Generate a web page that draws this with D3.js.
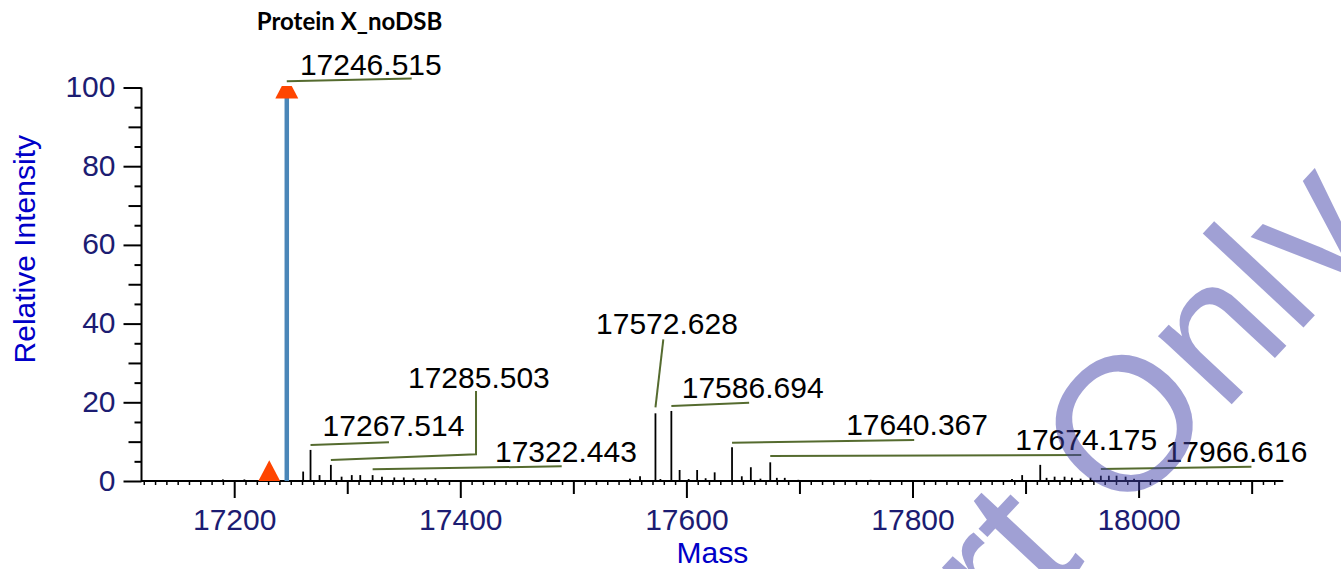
<!DOCTYPE html>
<html>
<head>
<meta charset="utf-8">
<script src="https://cdn.jsdelivr.net/npm/d3@7"></script>
<style>
  html, body { margin: 0; padding: 0; background: #fff; }
  svg { display: block; }
</style>
</head>
<body>
<script>
// ---------------- data ----------------
const chartTitle = "Protein X_noDSB";
const xTitle = "Mass";
const yTitle = "Relative Intensity";

const peakMass = [17190, 17209, 17231, 17246.515, 17261, 17267.514, 17275.5, 17285.503, 17295, 17304,
  17311.5, 17322.443, 17330.7, 17341.6, 17350, 17358.7, 17369, 17378, 17550, 17559,
  17572.628, 17577, 17586.694, 17594, 17602, 17609.5, 17617, 17625, 17640.367, 17649,
  17657, 17665.5, 17674.175, 17680, 17687, 17699, 17763, 17888, 17897, 17913,
  17918.6, 17925.7, 17934.5, 17941, 17948.7, 17957.5, 17966.616, 17973.7, 17980.5, 17988.5,
  17996, 18012];
const peakIntensity = [0.4, 0.4, 1.0, 100, 2.4, 7.9, 1.5, 4.1, 1.1, 1.5,
  1.5, 1.5, 1.1, 0.9, 0.9, 0.7, 0.7, 0.7, 0.6, 1.2,
  17.2, 0.5, 17.8, 2.8, 0.5, 2.8, 0.7, 2.2, 8.6, 1.2,
  3.5, 0.6, 4.75, 0.8, 0.8, 0.3, 0.3, 0.5, 1.5, 4.1,
  0.8, 1.1, 1.1, 0.85, 0.6, 0.85, 1.35, 1.35, 1.35, 1.1,
  0.6, 0.4];

const markerMass = [17231, 17246.515];
const markerIntensity = [2.5, 100];

const labelText = ["17246.515", "17267.514", "17285.503", "17322.443", "17572.628",
  "17586.694", "17640.367", "17674.175", "17966.616"];

// annotation layout, in data units (mass, intensity)
const labelAnchor = [[17258.1, 103.2], [17278.2, 11.4], [17353.7, 23.6], [17430.7, 4.83], [17520.1, 37.3],
  [17595.9, 21.0], [17741.3, 11.7], [17890.9, 7.9], [18023.9, 4.9]];
const leaderPath = [
  [[17246.515, 101.6], [17357.0, 102.3]],
  [[17267.514, 9.15], [17336.9, 9.83]],
  [[17285.503, 5.34], [17413.9, 6.79], [17413.9, 22.9]],
  [[17322.443, 2.97], [17489.7, 3.74]],
  [[17572.628, 18.7], [17579.6, 36.0]],
  [[17586.694, 19.06], [17655.5, 19.9]],
  [[17640.367, 9.73], [17801.5, 10.4]],
  [[17674.175, 6.35], [17949.3, 6.6]],
  [[17966.616, 3.05], [18099.8, 3.63]]
];

const xDomain = [17118, 18128];
const yDomain = [0, 100];
const xLabelTicks = [17200, 17400, 17600, 17800, 18000];
const yLabelTicks = [0, 20, 40, 60, 80, 100];

const watermarkText = "Report Only";

// ---------------- chart ----------------
const W = 1341, H = 569;
const svg = d3.select("body").append("svg").attr("width", W).attr("height", H);

const x = d3.scaleLinear().domain(xDomain).range([141.5, 1283.3]);
const y = d3.scaleLinear().domain(yDomain).range([481, 87.5]);

const FONT = "'Liberation Sans', Arial, Helvetica, sans-serif";
const tickColor = "#1c1c72";
const titleBlue = "#0000c8";

svg.append("defs").append("clipPath").attr("id", "plotclip")
  .append("rect").attr("x", x.range()[0]).attr("y", y(100) - 1.5)
  .attr("width", x.range()[1] - x.range()[0]).attr("height", y(0) - y(100) + 1.5);

// ---- x axis ----
const xMinor = d3.range(17120, 18121, 10).filter(v => v % 100 !== 0);
const xMid = d3.range(17200, 18101, 100).filter(v => v % 200 !== 0);

function styleAxis(g, sw) {
  g.selectAll(".domain").remove();
  g.selectAll(".tick line").attr("stroke", "#000").attr("stroke-width", sw);
}
svg.append("g").attr("transform", `translate(0,${y(0)})`)
  .call(d3.axisBottom(x).tickValues(xMinor).tickSize(4).tickFormat(""))
  .call(g => styleAxis(g, 1.5));
svg.append("g").attr("transform", `translate(0,${y(0)})`)
  .call(d3.axisBottom(x).tickValues(xMid).tickSize(13).tickFormat(""))
  .call(g => styleAxis(g, 2));
const xg = svg.append("g").attr("transform", `translate(0,${y(0)})`)
  .call(d3.axisBottom(x).tickValues(xLabelTicks).tickSize(17).tickPadding(11).tickFormat(d3.format("d")))
  .call(g => styleAxis(g, 2));
xg.selectAll(".tick text").attr("font-family", FONT).attr("font-size", 30).attr("fill", tickColor);

// ---- y axis ----
const yMinor = d3.range(5, 100, 10);
const yMid = d3.range(10, 100, 20);
svg.append("g").attr("transform", `translate(${x.range()[0]},0)`)
  .call(d3.axisLeft(y).tickValues(yMinor).tickSize(7).tickFormat(""))
  .call(g => styleAxis(g, 2));
svg.append("g").attr("transform", `translate(${x.range()[0]},0)`)
  .call(d3.axisLeft(y).tickValues(yMid).tickSize(13).tickFormat(""))
  .call(g => styleAxis(g, 2));
const yg = svg.append("g").attr("transform", `translate(${x.range()[0]},0)`)
  .call(d3.axisLeft(y).tickValues(yLabelTicks).tickSize(18).tickPadding(8).tickFormat(d3.format("d")))
  .call(g => styleAxis(g, 2));
yg.selectAll(".tick text").attr("font-family", FONT).attr("font-size", 30).attr("fill", tickColor)
  .attr("dy", "0.3em");

// axis lines
svg.append("line").attr("x1", x.range()[0]).attr("x2", x.range()[1])
  .attr("y1", y(0)).attr("y2", y(0)).attr("stroke", "#000").attr("stroke-width", 2);
svg.append("line").attr("x1", x.range()[0]).attr("x2", x.range()[0])
  .attr("y1", y(0) + 1).attr("y2", y(100)).attr("stroke", "#000").attr("stroke-width", 2);

// ---- peaks ----
const peaks = peakMass.map((m, i) => ({ m, v: peakIntensity[i] }));
const maxV = d3.max(peakIntensity);
svg.append("g").selectAll("line").data(peaks).join("line")
  .attr("x1", d => x(d.m)).attr("x2", d => x(d.m))
  .attr("y1", y(0)).attr("y2", d => y(d.v))
  .attr("stroke", d => d.v === maxV ? "#4a86b8" : "#000")
  .attr("stroke-width", d => d.v === maxV ? 4.5 : 1.8);

// ---- markers ----
const markers = markerMass.map((m, i) => ({ m, v: markerIntensity[i] }));
svg.append("g").attr("clip-path", "url(#plotclip)").selectAll("path").data(markers).join("path")
  .attr("d", d => {
    const cx = x(d.m), cy = y(d.v);
    return `M${cx},${cy - 11}L${cx + 11.5},${cy + 11}L${cx - 11.5},${cy + 11}Z`;
  })
  .attr("fill", "#ff4500");

// ---- leader lines & labels ----
const line = d3.line().x(d => x(d[0])).y(d => y(d[1]));
svg.append("g").selectAll("path").data(leaderPath).join("path")
  .attr("d", line).attr("fill", "none").attr("stroke", "#556b2f").attr("stroke-width", 2);
svg.append("g").selectAll("text").data(labelText).join("text")
  .attr("x", (d, i) => x(labelAnchor[i][0])).attr("y", (d, i) => y(labelAnchor[i][1]))
  .attr("font-family", FONT).attr("font-size", 30).attr("fill", "#000")
  .text(d => d);

// ---- titles ----
svg.append("text").attr("x", 349.5).attr("y", 30).attr("text-anchor", "middle")
  .attr("font-family", "Lato, 'Open Sans', sans-serif").attr("font-weight", "bold")
  .attr("font-size", 24).attr("fill", "#000").text(chartTitle);
svg.append("text").attr("x", (x.range()[0] + x.range()[1]) / 2).attr("y", 563)
  .attr("text-anchor", "middle").attr("font-family", FONT).attr("font-size", 30)
  .attr("fill", titleBlue).text(xTitle);
svg.append("text").attr("transform", `translate(35,${(y(0) + y(100)) / 2 - 35}) rotate(-90)`)
  .attr("text-anchor", "middle").attr("font-family", FONT).attr("font-size", 30)
  .attr("fill", titleBlue).text(yTitle);

// ---- watermark ----
const wmFont = 190;
const wm = svg.append("g").attr("transform", "translate(1122,522) rotate(-47)");
const probe = wm.append("text").attr("font-family", FONT).attr("font-size", wmFont)
  .style("white-space", "pre")
  .text(watermarkText.slice(0, watermarkText.indexOf("O")));
const prefixW = probe.node().getComputedTextLength();
probe.remove();
wm.append("text").attr("x", -prefixW).attr("y", 0)
  .attr("font-family", FONT).attr("font-size", wmFont)
  .attr("fill", "rgb(65,65,169)").attr("fill-opacity", 0.5)
  .style("white-space", "pre")
  .text(watermarkText);
</script>
</body>
</html>
